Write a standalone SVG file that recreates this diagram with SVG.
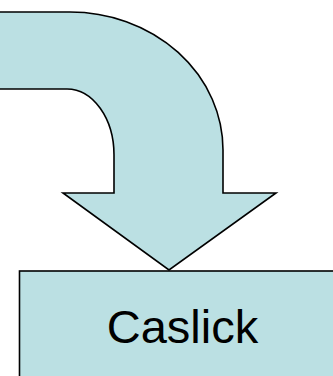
<svg xmlns="http://www.w3.org/2000/svg" width="333" height="376" viewBox="0 0 333 376">
<style>
.shape{fill:#BBE0E3;stroke:#000;stroke-width:1.6;stroke-linejoin:miter}
.lbl{font-family:"Liberation Sans",Arial,sans-serif;font-size:47px;fill:#000}
</style>
<g id="connectors">
<path class="shape" d="M-5,12 L70,12 A153,138 0 0 1 223,150 L223,193 L276,193 L169,270 L63,193 L114,193 L114,155 A47,66 0 0 0 67,89 L-5,89 Z"/>
</g>
<g id="node-caslick">
<rect class="shape" x="19.5" y="271" width="330" height="130"/>
<text class="lbl" x="182.5" y="343" text-anchor="middle">Caslick</text>
</g>
</svg>
